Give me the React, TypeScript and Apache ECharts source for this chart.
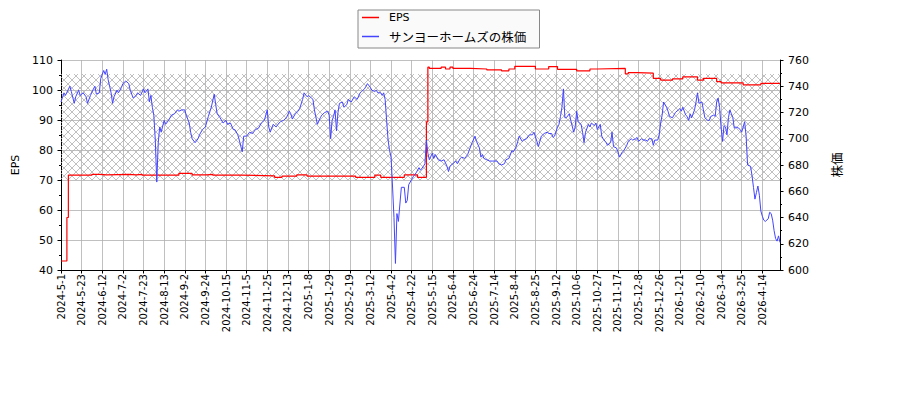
import { useEffect, useRef } from "react"
import * as echarts from "echarts"

// x axis: trading-day index, a label every 14 days
const dateLabels = [
  "2024-5-1", "2024-5-23", "2024-6-12", "2024-7-2", "2024-7-23", "2024-8-13", "2024-9-2",
  "2024-9-24", "2024-10-15", "2024-11-5", "2024-11-25", "2024-12-13", "2025-1-8", "2025-1-29",
  "2025-2-19", "2025-3-12", "2025-4-2", "2025-4-22", "2025-5-15", "2025-6-4", "2025-6-24",
  "2025-7-14", "2025-8-4", "2025-8-25", "2025-9-12", "2025-10-6", "2025-10-27", "2025-11-17",
  "2025-12-8", "2025-12-26", "2026-1-21", "2026-2-10", "2026-3-4", "2026-3-25", "2026-4-14",
]
const lastIndex = 488
const labelStep = 14

// EPS (left axis), step changes [day index, value]
const epsData: [number, number][] = [
  [0, 43], [4, 57.5], [5, 71.6], [21, 71.9], [26, 71.7], [31, 71.9], [46, 71.7], [51, 71.9],
  [55, 71.6], [80, 72.2], [89, 71.7], [99, 71.9], [103, 71.6], [122, 71.4], [145, 70.9],
  [150, 71.3], [160, 71.7], [167, 71.3], [200, 70.9], [213, 71.6], [217, 70.9], [233, 71.7],
  [242, 70.9], [248, 89.4], [249, 107.6], [250, 107.2], [258, 107.6], [261, 107.0], [264, 107.6],
  [266, 107.2], [278, 107.0], [289, 106.7], [299, 106.4], [304, 107.0], [308, 107.9], [322, 107.0],
  [331, 107.8], [337, 106.9], [350, 106.4], [359, 107.0], [364, 107.2], [383, 105.4], [385, 105.8],
  [391, 105.6], [402, 103.9], [407, 103.3], [415, 103.7], [422, 104.4], [432, 103.3], [436, 103.9],
  [445, 102.8], [448, 102.4], [463, 101.7], [475, 102.2], [488, 102.2],
]

// share price (right axis) [day index, price]
const priceData: [number, number][] = [
  [0, 728], [2, 735], [3, 733], [6, 740], [7, 736], [9, 727], [10, 732], [12, 737], [13, 733],
  [15, 735], [17, 732], [18, 727], [20, 733], [22, 738], [23, 740], [24, 734], [26, 735], [27, 746],
  [29, 752], [30, 749], [31, 753], [32, 745], [34, 735], [35, 727], [36, 732], [38, 737], [39, 735],
  [41, 739], [42, 742], [44, 744], [46, 742], [47, 737], [49, 731], [51, 733], [52, 735], [54, 733],
  [56, 738], [57, 735], [59, 738], [60, 728], [61, 733], [62, 724], [63, 718], [64, 699], [65, 667],
  [66, 697], [67, 709], [68, 705], [70, 714], [71, 711], [73, 714], [75, 718], [77, 719], [79, 722],
  [80, 721], [82, 722], [84, 722], [85, 718], [87, 712], [88, 705], [89, 700], [91, 697], [93, 700],
  [94, 703], [96, 707], [98, 709], [100, 717], [102, 724], [104, 734], [105, 726], [106, 719],
  [108, 716], [110, 712], [112, 714], [113, 711], [115, 712], [117, 707], [118, 707], [120, 703],
  [121, 699], [123, 690], [124, 702], [126, 702], [128, 705], [130, 704], [132, 707], [134, 708],
  [136, 712], [138, 714], [140, 722], [141, 709], [142, 705], [144, 711], [146, 709], [148, 712],
  [149, 713], [151, 714], [153, 716], [155, 721], [156, 719], [157, 715], [159, 719], [161, 721],
  [162, 723], [164, 730], [165, 735], [167, 732], [168, 733], [170, 731], [171, 730], [172, 722],
  [174, 711], [176, 716], [177, 718], [179, 720], [181, 721], [182, 718], [183, 700], [184, 714],
  [185, 717], [186, 722], [187, 706], [188, 720], [189, 727], [191, 728], [192, 724], [194, 726],
  [195, 730], [197, 728], [199, 732], [201, 730], [203, 735], [204, 736], [206, 738], [207, 740],
  [208, 742], [210, 739], [211, 737], [213, 736], [214, 737], [215, 735], [217, 735], [218, 733],
  [219, 735], [220, 730], [221, 714], [222, 699], [223, 691], [224, 686], [225, 664], [226, 640],
  [227, 605], [228, 643], [229, 637], [231, 663], [233, 663], [234, 651], [235, 653], [236, 665],
  [238, 669], [239, 671], [241, 674], [243, 678], [244, 676], [246, 679], [247, 681], [248, 699],
  [249, 689], [250, 684], [252, 689], [253, 685], [254, 688], [256, 684], [258, 683], [260, 684],
  [262, 679], [263, 675], [264, 679], [266, 681], [268, 683], [269, 681], [271, 685], [272, 686],
  [274, 685], [276, 688], [277, 691], [279, 697], [281, 702], [282, 698], [284, 693], [285, 686],
  [286, 688], [287, 685], [289, 684], [291, 683], [293, 683], [296, 683], [297, 681], [299, 680],
  [301, 681], [302, 684], [304, 685], [306, 691], [307, 690], [309, 694], [310, 698], [311, 702],
  [313, 698], [314, 699], [316, 700], [318, 703], [320, 703], [321, 705], [323, 698], [324, 694],
  [325, 698], [326, 702], [328, 704], [330, 705], [331, 704], [333, 704], [334, 701], [335, 702],
  [337, 709], [338, 711], [339, 717], [340, 724], [341, 738], [342, 716], [343, 716], [345, 719],
  [346, 714], [348, 705], [349, 709], [350, 721], [351, 713], [353, 711], [354, 705], [355, 697],
  [356, 705], [358, 711], [359, 709], [360, 712], [362, 710], [363, 712], [364, 707], [366, 711],
  [367, 702], [368, 700], [370, 697], [371, 695], [373, 697], [374, 705], [375, 694], [377, 693],
  [378, 690], [379, 686], [381, 690], [382, 691], [384, 695], [385, 698], [387, 700], [388, 699],
  [390, 700], [391, 701], [392, 698], [394, 700], [395, 699], [397, 699], [398, 698], [399, 700],
  [401, 700], [402, 695], [403, 699], [405, 699], [406, 703], [407, 712], [408, 718], [409, 728],
  [411, 724], [412, 721], [413, 717], [415, 716], [416, 718], [417, 720], [419, 722], [420, 723],
  [421, 721], [422, 724], [424, 718], [425, 717], [426, 714], [427, 719], [428, 716], [430, 722],
  [431, 728], [432, 735], [433, 727], [435, 728], [436, 722], [437, 716], [439, 714], [440, 714],
  [441, 717], [443, 718], [444, 717], [445, 728], [446, 731], [447, 724], [448, 709], [449, 698],
  [450, 710], [451, 709], [452, 703], [453, 716], [454, 722], [455, 719], [456, 716], [457, 708],
  [458, 709], [460, 708], [461, 707], [462, 705], [464, 713], [465, 702], [466, 680], [468, 679],
  [469, 672], [470, 663], [471, 654], [472, 659], [473, 664], [474, 657], [475, 645], [476, 641],
  [477, 638], [478, 637], [480, 639], [481, 644], [482, 643], [483, 638], [484, 630], [485, 624],
  [486, 622], [487, 626], [488, 621],
]

// hatched band on the EPS axis
const hatchBand = [70, 105.3]

function hatchPattern() {
  const c = document.createElement("canvas")
  c.width = 8
  c.height = 8
  const ctx = c.getContext("2d")!
  ctx.strokeStyle = "#b0b0b0"
  ctx.lineWidth = 0.8
  ctx.beginPath()
  ctx.moveTo(-1, -1)
  ctx.lineTo(9, 9)
  ctx.moveTo(-1, 9)
  ctx.lineTo(9, -1)
  ctx.stroke()
  return { image: c, repeat: "repeat", imageWidth: 8, imageHeight: 8 }
}

export default function App() {
  const chartRef = useRef<HTMLDivElement>(null)

  useEffect(() => {
    if (!chartRef.current) return
    const chart = echarts.init(chartRef.current, undefined, { renderer: "svg" })
    const grid = "#b0b0b0"

    const option: any = {
      animation: false,
      textStyle: { fontFamily: "DejaVu Sans", color: "#000" },
      grid: { left: 61, right: 120, top: 60, bottom: 130 },
      legend: {
        left: 358,
        top: 10,
        orient: "vertical",
        icon: "rect",
        itemWidth: 17,
        itemHeight: 1.5,
        itemGap: 6,
        padding: [1, 13, 5, 4],
        backgroundColor: "#fafafa",
        borderColor: "#888",
        borderWidth: 1,
        borderRadius: 0,
        data: ["EPS", "サンヨーホームズの株価"],
        formatter: (name: string) => (name === "EPS" ? "{e|EPS}" : `{j|${name}}`),
        textStyle: {
          padding: [0, 0, 0, 5],
          lineHeight: 13,
          rich: {
            e: { fontFamily: "DejaVu Sans", fontSize: 11, lineHeight: 13, color: "#000" },
            j: { fontFamily: "Noto Sans CJK JP", fontSize: 12.5, lineHeight: 13, color: "#000" },
          },
        },
      },
      xAxis: {
        type: "value",
        min: 0,
        max: lastIndex,
        interval: labelStep,
        axisLine: { lineStyle: { color: "#000", width: 1 } },
        axisTick: { length: 3.5, lineStyle: { color: "#000" } },
        axisLabel: {
          rotate: 90,
          fontSize: 10,
          margin: 4,
          color: "#000",
          showMaxLabel: false,
          formatter: (v: number) => (v % labelStep === 0 ? dateLabels[v / labelStep] ?? "" : ""),
        },
        splitLine: { show: true, lineStyle: { color: grid, width: 0.8 } },
      },
      yAxis: [
        {
          type: "value",
          min: 40,
          max: 110,
          interval: 10,
          name: "EPS",
          nameLocation: "middle",
          nameGap: 35,
          nameRotate: 90,
          nameTextStyle: { fontSize: 11, color: "#000" },
          axisLine: { show: true, lineStyle: { color: "#000", width: 1 } },
          axisTick: { show: true, length: 3.5, lineStyle: { color: "#000" } },
          minorTick: { show: true, splitNumber: 2, length: 2, lineStyle: { color: "#000" } },
          axisLabel: { fontSize: 11, margin: 8, color: "#000" },
          splitLine: { show: true, lineStyle: { color: grid, width: 0.8 } },
        },
        {
          type: "value",
          position: "right",
          min: 600,
          max: 760,
          interval: 20,
          name: "株価",
          nameLocation: "middle",
          nameGap: 50,
          nameRotate: 90,
          nameTextStyle: { fontSize: 12.5, fontFamily: "Noto Sans CJK JP", color: "#000" },
          axisLine: { show: true, lineStyle: { color: "#000", width: 1 } },
          axisTick: { show: true, length: 3.5, lineStyle: { color: "#000" } },
          minorTick: { show: true, splitNumber: 2, length: 2, lineStyle: { color: "#000" } },
          axisLabel: { fontSize: 11, margin: 8, color: "#000" },
          splitLine: { show: false },
        },
      ],
      series: [
        {
          name: "EPS",
          type: "line",
          yAxisIndex: 0,
          data: epsData,
          step: "end",
          showSymbol: false,
          z: 2,
          itemStyle: { color: "#ff0000" },
          lineStyle: { color: "#ff0000", width: 1.2 },
          markArea: {
            silent: true,
            itemStyle: { color: hatchPattern() },
            data: [[{ yAxis: hatchBand[0] }, { yAxis: hatchBand[1] }]],
          },
        },
        {
          name: "サンヨーホームズの株価",
          type: "line",
          yAxisIndex: 1,
          data: priceData,
          showSymbol: false,
          z: 3,
          itemStyle: { color: "#4444ff" },
          lineStyle: { color: "#4444ff", width: 1 },
        },
      ],
    }

    chart.setOption(option)
    return () => chart.dispose()
  }, [])

  return <div ref={chartRef} style={{ position: "absolute", left: 0, top: 0, width: 900, height: 400 }} />
}
